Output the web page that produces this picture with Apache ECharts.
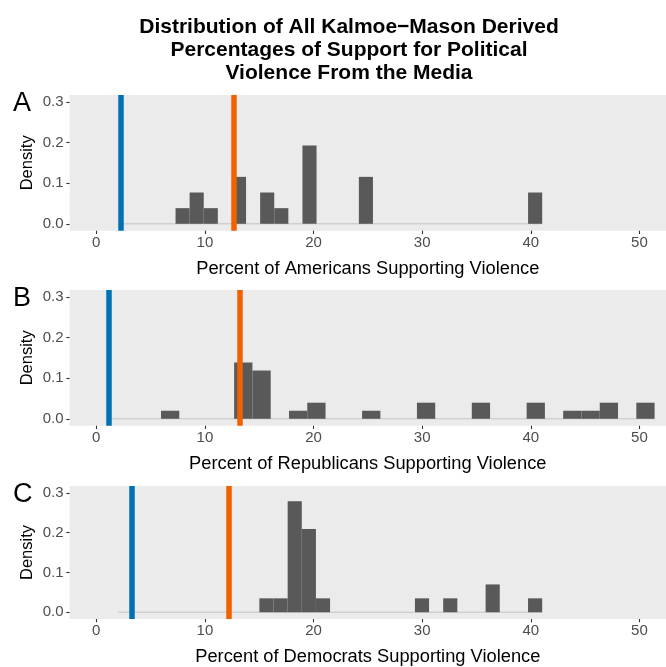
<!DOCTYPE html>
<html>
<head>
<meta charset="utf-8">
<script src="https://cdn.jsdelivr.net/npm/echarts@6/dist/echarts.min.js"></script>
<style>html,body{margin:0;padding:0;background:#fff}#c{width:666px;height:667px}</style>
</head>
<body>
<div id="c"></div>
<script>
// ---- data ----
var titleText = 'Distribution of All Kalmoe\u2212Mason Derived\nPercentages of Support for Political\nViolence From the Media';
var panelLetters = ['A', 'B', 'C'];
var xTitles = ['Percent of Americans Supporting Violence', 'Percent of Republicans Supporting Violence', 'Percent of Democrats Supporting Violence'];
var xTicks = [0, 10, 20, 30, 40, 50];
var yTicks = [0, 0.1, 0.2, 0.3];

// histogram ranges [lo, hi] (30 bins each) and densities per bin
var rangeA = [2.105, 41.05];
var densA = [0,0,0,0,0.0385,0.077,0.0385,0,0.1155,0,0.077,0.0385,0,0.1925,0,0,0,0.1155,0,0,0,0,0,0,0,0,0,0,0,0.077];
var rangeB = [0.912, 51.40];
var densB = [0,0,0,0.0198,0,0,0,0.1386,0.1188,0,0.0198,0.0396,0,0,0.0198,0,0,0.0396,0,0,0.0396,0,0,0.0396,0,0.0198,0.0198,0.0396,0,0.0396];
var rangeC = [2.0, 41.05];
var densC = [0,0,0,0,0,0,0,0,0,0,0.0349,0.0349,0.279,0.209,0.0349,0,0,0,0,0,0,0.0349,0,0.0349,0,0,0.0698,0,0,0.0349];

// reference lines: blue and orange
var blueLines = [2.23, 1.12, 3.23];
var orangeLines = [12.63, 13.23, 12.21];

// ---- chart ----
var ranges = [rangeA, rangeB, rangeC];
var dens = [densA, densB, densC];
var FONT = '"Liberation Sans", Arial, Helvetica, sans-serif';
var tops = [95, 290, 486];
var PH = 135.7;

function binsOf(range, d) {
  var w = (range[1] - range[0]) / d.length;
  return d.map(function (v, i) { return [range[0] + i * w, range[0] + (i + 1) * w, v]; })
          .filter(function (b) { return b[2] > 0; });
}

var grids = [], xAxes = [], yAxes = [], series = [], graphics = [];
for (var p = 0; p < 3; p++) {
  grids.push({ left: 69.6, right: -2, top: tops[p], height: PH, backgroundColor: '#EBEBEB', show: true, borderWidth: 0 });
  xAxes.push({
    type: 'value', gridIndex: p, min: -2.455, max: 52.45,
    name: xTitles[p], nameLocation: 'middle', nameGap: 29, nameMoveOverlap: false,
    nameTextStyle: { fontFamily: FONT, fontSize: 18.3, color: '#000' },
    axisLine: { show: false, onZero: false }, splitLine: { show: false },
    axisTick: { show: true, length: 3.3, lineStyle: { color: '#333', width: 1.1 }, customValues: xTicks },
    axisLabel: { fontFamily: FONT, fontSize: 15, color: '#4D4D4D', margin: 4.5, customValues: xTicks, formatter: function (v) { return String(v); } }
  });
  yAxes.push({
    type: 'value', gridIndex: p, min: -0.017, max: 0.317,
    name: 'Density', nameLocation: 'middle', nameGap: 34, nameRotate: 90, nameMoveOverlap: false,
    nameTextStyle: { fontFamily: FONT, fontSize: 16.5, color: '#000' },
    axisLine: { show: false, onZero: false }, splitLine: { show: false },
    axisTick: { show: true, length: 3.3, lineStyle: { color: '#333', width: 1.1 }, customValues: yTicks },
    axisLabel: { fontFamily: FONT, fontSize: 15, color: '#4D4D4D', margin: 6, customValues: yTicks, formatter: function (v) { return v.toFixed(1); } }
  });
  // baseline (zero-count bins)
  series.push({
    type: 'line', xAxisIndex: p, yAxisIndex: p, symbol: 'none', silent: true, z: 1,
    lineStyle: { color: '#C4C4C4', width: 1 },
    data: [[ranges[p][0], 0], [ranges[p][1], 0]]
  });
  // histogram bars
  series.push({
    type: 'custom', xAxisIndex: p, yAxisIndex: p, z: 2,
    data: binsOf(ranges[p], dens[p]),
    renderItem: function (params, api) {
      var a = api.coord([api.value(0), api.value(2)]);
      var b = api.coord([api.value(1), 0]);
      return { type: 'rect', shape: { x: a[0], y: a[1], width: b[0] - a[0], height: b[1] - a[1] }, style: { fill: '#595959' } };
    }
  });
  // vertical reference lines
  series.push({
    type: 'line', xAxisIndex: p, yAxisIndex: p, data: [], z: 3,
    markLine: {
      silent: true, symbol: 'none', label: { show: false }, animation: false,
      data: [
        { xAxis: blueLines[p], lineStyle: { color: '#0072B2', width: 5.5, type: 'solid' } },
        { xAxis: orangeLines[p], lineStyle: { color: '#F36000', width: 5.5, type: 'solid' } }
      ]
    }
  });
  graphics.push({
    type: 'text', left: 13, top: tops[p] - 5,
    style: { text: panelLetters[p], font: '27px ' + FONT, fill: '#000' }
  });
}

var chart = echarts.init(document.getElementById('c'), null, { renderer: 'canvas' });
chart.setOption({
  animation: false,
  backgroundColor: '#fff',
  title: {
    text: titleText, left: 344, top: 11, textAlign: 'center',
    textStyle: { fontFamily: FONT, fontSize: 21, fontWeight: 'bold', color: '#000', lineHeight: 22.8 }
  },
  grid: grids, xAxis: xAxes, yAxis: yAxes, series: series, graphic: graphics
});
</script>
</body>
</html>
